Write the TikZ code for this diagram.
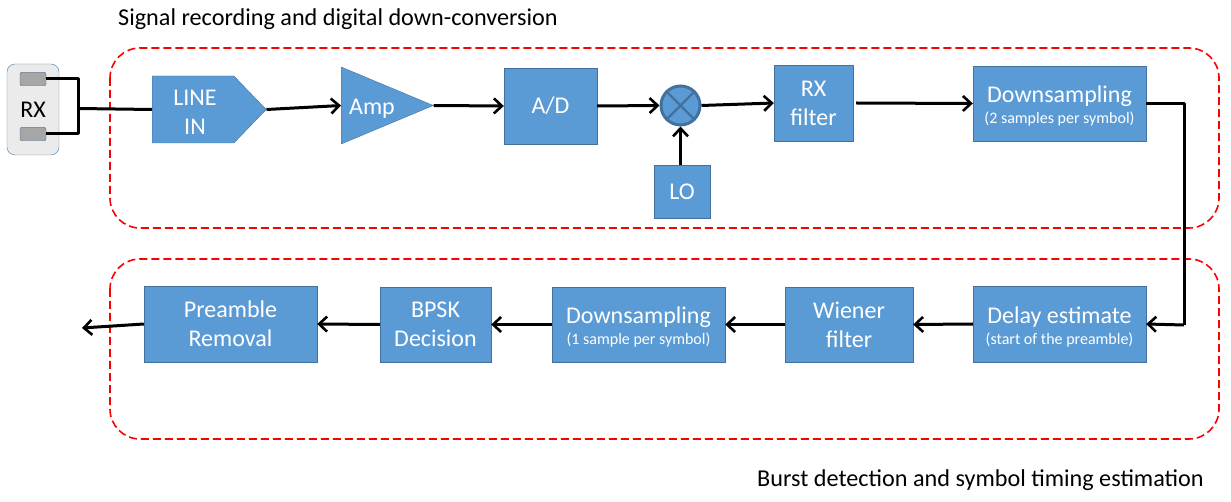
\documentclass[tikz,border=0pt]{standalone}
\usepackage{fontspec}
\setmainfont{Carlito}
\usetikzlibrary{arrows.meta, shapes.geometric, shapes.symbols}
\definecolor{boxblue}{HTML}{5B9BD5}
\definecolor{boxedge}{HTML}{41719C}
\newcommand{\subline}[1]{{\fontsize{16}{18}\selectfont #1}}
\tikzset{
	block/.style={draw=boxedge, fill=boxblue, text=white, font=\fontsize{24}{29}\selectfont, align=center, inner sep=0pt},
	flow/.style={line width=3pt, -{Straight Barb[length=8pt, width=15pt, line width=2.6pt]}},
	wire/.style={line width=3pt, line join=round},
	zone/.style={draw=red, line width=1.6pt, dash pattern=on 8pt off 4pt, rounded corners=30pt},
	title/.style={font=\fontsize{24.2}{28}\selectfont, anchor=base west, inner sep=0pt}
}
\begin{document}
\begin{tikzpicture}[x=1pt, y=-1pt]
		\useasboundingbox (0, 0) rectangle (1231, 502);
		% dashed zones
		\draw[zone] (110, 48) rectangle (1219, 228);
		\draw[zone] (110, 259) rectangle (1219, 439);
		\node[title] (titletop) at (118, 26) {Signal recording and digital down-conversion};
		\node[title] (titlebot) at (757, 486) {Burst detection and symbol timing estimation};
		% receiver
		\node[draw=boxedge!70!boxblue, fill=black!8, rounded corners=8pt, minimum width=52pt, minimum height=91pt, inner sep=0pt, font=\fontsize{24}{28}\selectfont] (rx) at (33, 109.5) {RX};
		\foreach \name/\y in {portA/79, portB/134}
			\node[draw=boxedge, fill=black!35, rounded corners=2pt, minimum width=26pt, minimum height=13.5pt, inner sep=0pt] (\name) at (33, \y) {};
		% top row
		\node[block, shape=signal, signal to=east, signal pointer angle=92, minimum height=67pt, minimum width=114pt, anchor=west] (line) at (152, 109.5) {};
		\node[block, draw=none, fill=none] (linetext) at (195, 112) {LINE\\IN};
		\node[block, shape=isosceles triangle, isosceles triangle apex angle=80, isosceles triangle stretches, minimum width=77pt, minimum height=92pt, anchor=west] (amp) at (341, 105.5) {};
		\node[block, draw=none, fill=none] (amptext) at (372, 109) {Amp};
		\node[block, minimum width=93pt, minimum height=76pt] (adc) at (550.5, 106) {A/D};
		\node[draw=boxedge, fill=boxblue, circle, line width=3pt, minimum size=39pt, inner sep=0pt] (mix) at (680.5, 105.5) {};
		\draw[boxedge, line width=2.4pt] (mix.north west) -- (mix.south east) (mix.north east) -- (mix.south west);
		\node[block, minimum width=56pt, minimum height=53pt] (lo) at (682, 191.5) {LO};
		\node[block, minimum width=79pt, minimum height=76pt] (rxf) at (813.5, 103) {RX\\filter};
		\node[block, minimum width=173pt, minimum height=75pt] (downa) at (1059.5, 103.5) {};
		\node[block, draw=none, fill=none] (downatext) at (1059.5, 106) {Downsampling\\[-8pt]\subline{(2 samples per symbol)}};
		% bottom row
		\node[block, minimum width=173pt, minimum height=76pt] (delay) at (1059.5, 324) {};
		\node[block, draw=none, fill=none] (delaytext) at (1059.5, 326.5) {Delay estimate\\[-8pt]\subline{(start of the preamble)}};
		\node[block, minimum width=128pt, minimum height=75pt] (wiener) at (849, 324.5) {Wiener\\filter};
		\node[block, minimum width=173pt, minimum height=75pt] (downb) at (638.5, 324.5) {};
		\node[block, draw=none, fill=none] (downbtext) at (638.5, 327) {Downsampling\\[-8pt]\subline{(1 sample per symbol)}};
		\node[block, minimum width=111pt, minimum height=75pt] (bpsk) at (435.5, 324.5) {BPSK\\Decision};
		\node[block, minimum width=173pt, minimum height=76pt] (pre) at (230.5, 324) {Preamble\\Removal};
		\coordinate (out) at (82, 328);
		% connectors
		\draw[wire] (portA.east) -- (78, 79) -- (78, 134) -- (portB.east);
		\draw[wire] (78, 108.5) -- (line.west);
		\draw[flow] (line.east) -- (amp.west);
		\draw[flow] (amp.east) -- (adc.west);
		\draw[flow] (adc.east) -- (mix.west);
		\draw[flow] (lo.north -| mix.south) -- (mix.south);
		\draw[flow] (mix.east) -- (rxf.west);
		\draw[flow] (rxf.east) ++(3, 0) -- (downa.west);
		\draw[wire] (downa.east) -- (1184, 103.5) -- (1184, 325);
		\draw[flow] (1184, 325) -- (delay.east);
		\draw[flow] (delay.west) -- (wiener.east);
		\draw[flow] (wiener.west) -- (downb.east);
		\draw[flow] (downb.west) -- (bpsk.east);
		\draw[flow] (bpsk.west) -- (pre.east);
		\draw[flow] (pre.west) -- (out);
	\end{tikzpicture}
\end{document}
